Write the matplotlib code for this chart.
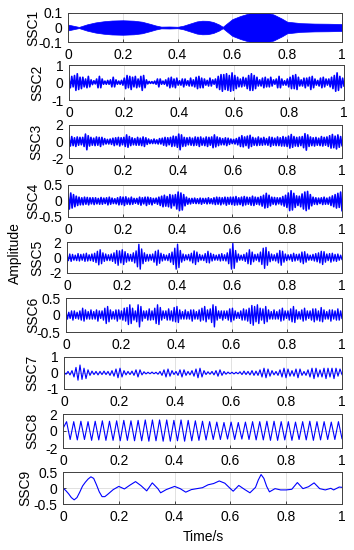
import numpy as np
import matplotlib
matplotlib.use('Agg')
import matplotlib.pyplot as plt

plt.rcParams['font.family'] = ['Liberation Sans', 'DejaVu Sans']
plt.rcParams['axes.unicode_minus'] = False

# SSC1: envelope of the high frequency component
ssc1_t = [0, 0.02, 0.04, 0.07, 0.1, 0.13, 0.16, 0.2, 0.24, 0.27, 0.3, 0.32, 0.34, 0.37, 0.4,
          0.42, 0.45, 0.47, 0.49, 0.51, 0.53, 0.55, 0.565, 0.58, 0.6, 0.63, 0.66, 0.68, 0.72,
          0.75, 0.78, 0.8, 0.85, 0.9, 0.95, 1.0]
ssc1_env = [0.02, 0.012, 0.004, 0.022, 0.035, 0.043, 0.048, 0.05, 0.047, 0.04, 0.025, 0.014, 0.006,
            0.007, 0.005, 0.012, 0.03, 0.042, 0.047, 0.046, 0.038, 0.022, 0.005, 0.028, 0.058,
            0.08, 0.097, 0.105, 0.105, 0.09, 0.062, 0.04, 0.03, 0.027, 0.026, 0.024]

# SSC2..SSC6: samples in hundredths, evenly spaced over 0..1 s
ssc2 = [20, -30, 35, -25, 40, -45, 50, -40, 30, -35, 30, -25, 20, -30, 35, -25, 15, -12, 10, -8,
        20, -30, 35, -30, 20, -10, 8, -10, 12, -10, 15, -25, 30, -25, 15, -10, 8, -10, 12, -15,
        25, -35, 40, -30, 35, -40, 30, -25, 35, -30, 20, -25, 35, -45, 40, -30, 15, -8, 6, -5,
        5, -6, 8, -10, 20, -25, 20, -10, 8, -10, 15, -20, 25, -30, 30, -25, 20, -30, 25, -15,
        10, -15, 20, -25, 20, -15, 10, -20, 25, -20, 15, -25, 30, -35, 35, -30, 25, -30, 20, -15,
        12, -20, 25, -20, 15, -10, 20, -30, 35, -40, 45, -50, 45, -40, 50, -45, 40, -50, 55, -45,
        40, -35, 30, -25, 20, -25, 30, -20, 25, -35, 40, -45, 50, -45, 40, -35, 30, -20, 15, -20,
        25, -30, 30, -25, 20, -25, 30, -20, 15, -10, 20, -30, 35, -30, 20, -15, 10, -15, 20, -25,
        30, -35, 40, -35, 45, -40, 30, -20, 15, -20, 25, -30, 25, -20, 30, -40, 35, -30, 20, -15,
        12, -20, 25, -30, 30, -25, 20, -15, 20, -25, 30, -35, 40, -50, 55, -45, 35, -30, 25, -20]

ssc3 = [40, -55, 60, -50, 45, -60, 55, -45, 50, -40, 50, -60, 90, -100, 70, -55, 50, -45, 40, -50,
        55, -45, 50, -60, 50, -40, 35, -30, 25, -30, 30, -35, 40, -50, 45, -40, 50, -55, 45, -40,
        50, -60, 80, -70, 60, -50, 45, -40, 35, -45, 50, -45, 40, -50, 55, -60, 45, -35, 30, -25,
        20, -25, 30, -25, 20, -30, 35, -30, 40, -45, 50, -55, 45, -40, 50, -60, 65, -55, 60, -70,
        90, -100, 80, -60, 50, -55, 45, -40, 50, -45, 40, -50, 55, -45, 50, -60, 55, -45, 40, -50,
        55, -60, 50, -45, 55, -75, 80, -65, 55, -50, 45, -40, 35, -40, 45, -50, 40, -35, 30, -25,
        25, -30, 35, -40, 50, -60, 70, -65, 55, -50, 65, -80, 75, -60, 50, -45, 40, -50, 55, -45,
        40, -45, 50, -40, 35, -45, 55, -60, 50, -45, 40, -50, 55, -50, 45, -55, 60, -55, 50, -60,
        65, -80, 85, -70, 60, -55, 50, -60, 55, -50, 60, -75, 95, -105, 80, -60, 55, -50, 45, -55,
        50, -45, 40, -50, 60, -55, 50, -45, 55, -60, 70, -80, 85, -75, 65, -90, 80, -70, 60, -50]

ssc4 = [20, -25, 25, -22, 20, -18, 15, -14, 12, -12, 10, -12, 12, -10, 11, -12, 10, -9, 10, -11,
        10, -9, 8, -10, 11, -10, 9, -8, 10, -12, 12, -10, 9, -8, 7, -9, 10, -12, 13, -11,
        12, -14, 13, -10, 9, -11, 12, -10, 8, -7, 8, -10, 12, -13, 10, -9, 12, -14, 12, -10,
        10, -12, 8, -7, 9, -10, 12, -14, 15, -18, 18, -16, 14, -18, 20, -22, 18, -15, 20, -25,
        28, -30, 25, -28, 20, -15, 12, -10, 8, -9, 8, -7, 9, -8, 7, -8, 9, -10, 8, -7,
        8, -9, 10, -8, 7, -9, 10, -11, 12, -10, 11, -12, 10, -9, 12, -13, 11, -10, 12, -11,
        12, -13, 14, -12, 10, -11, 12, -15, 14, -12, 12, -10, 11, -13, 15, -14, 12, -10, 11, -12,
        14, -16, 18, -22, 24, -20, 18, -15, 12, -10, 11, -12, 10, -9, 10, -12, 14, -16, 18, -20,
        25, -30, 32, -28, 24, -20, 16, -14, 15, -18, 22, -25, 28, -30, 30, -25, 20, -15, 12, -10,
        10, -11, 9, -8, 10, -11, 12, -10, 9, -10, 12, -14, 16, -18, 20, -22, 24, -20, 28, -30]

ssc5 = [30, -40, 45, -50, 40, -35, 30, -40, 50, -45, 40, -35, 45, -50, 55, -45, 35, -40, 45, -50,
        55, -65, 80, -95, 100, -80, 60, -50, 45, -40, 35, -40, 45, -50, 60, -75, 90, -100, 85, -70,
        100, -90, 75, -60, 50, -45, 40, -50, 60, -70, 85, -120, 170, -150, 110, -80, 60, -50, 40, -45,
        40, -35, 45, -60, 80, -100, 95, -75, 55, -45, 40, -35, 30, -40, 50, -60, 70, -90, 120, -150,
        170, -130, 90, -60, 45, -40, 35, -30, 40, -45, 55, -70, 85, -90, 70, -55, 40, -35, 30, -40,
        50, -65, 80, -70, 55, -45, 40, -35, 30, -35, 40, -45, 50, -40, 35, -45, 60, -80, 110, -150,
        180, -140, 90, -60, 45, -35, 30, -35, 40, -50, 60, -80, 100, -90, 70, -55, 40, -35, 45, -55,
        70, -90, 120, -140, 130, -100, 75, -55, 45, -40, 35, -45, 55, -70, 90, -100, 80, -60, 45, -40,
        35, -30, 40, -50, 55, -45, 40, -35, 45, -60, 70, -80, 75, -60, 45, -35, 30, -35, 40, -45,
        50, -55, 60, -70, 80, -90, 75, -60, 45, -40, 50, -60, 55, -45, 40, -50, 45, -35, 30, -25]

ssc6 = [10, -12, 8, -10, 12, -15, 12, -10, 8, -12, 12, -15, 20, -18, 15, -12, 10, -12, 15, -12,
        10, -12, 15, -18, 12, -10, 12, -15, 20, -25, 25, -20, 15, -12, 10, -12, 15, -18, 15, -12,
        12, -15, 20, -18, 22, -28, 30, -25, 20, -15, 12, -20, 30, -35, 25, -18, 12, -10, 12, -15,
        18, -15, 12, -14, 20, -25, 30, -28, 22, -15, 12, -10, 12, -15, 18, -15, 12, -18, 22, -20,
        25, -22, 15, -12, 10, -12, 15, -12, 10, -12, 15, -18, 15, -12, 10, -12, 15, -18, 20, -15,
        25, -20, 15, -12, 18, -22, 30, -35, 25, -15, 12, -10, 12, -15, 12, -10, 12, -15, 18, -20,
        20, -15, 12, -10, 8, -10, 12, -15, 18, -15, 15, -18, 20, -25, 28, -30, 25, -20, 30, -25,
        20, -15, 18, -25, 25, -20, 15, -12, 10, -12, 15, -12, 10, -12, 15, -18, 20, -15, 12, -10,
        12, -15, 18, -20, 25, -22, 15, -12, 10, -12, 15, -18, 20, -15, 12, -10, 12, -15, 18, -20,
        18, -15, 12, -18, 22, -20, 15, -12, 10, -12, 15, -18, 15, -12, 12, -15, 18, -15, 12, -10]

# SSC7: peaks/troughs in hundredths
ssc7 = [5, -8, 10, -12, 15, -25, 35, -45, 50, -40, 30, -35, 20, -15, 12, -10, 10, -12, 10, -10,
        12, -10, 10, -15, 15, -20, 25, -30, 30, -25, 15, -12, 10, -10, 12, -15, 20, -25, 20, -12,
        8, -6, 5, -5, 6, -5, 5, -8, 10, -15, 20, -25, 25, -20, 15, -10, 10, -15, 20, -25,
        20, -15, 10, -12, 15, -20, 25, -30, 30, -25, 15, -10, 8, -8, 10, -12, 15, -20, 20, -15,
        10, -8, 6, -5, 5, -6, 5, -5, 8, -10, 12, -10, 10, -12, 15, -15, 12, -15, 20, -25,
        30, -30, 25, -20, 15, -12, 10, -15, 20, -25, 30, -30, 25, -20, 15, -20, 25, -30, 25, -15,
        10, -15, 20, -25, 30, -35, 30, -25, 20, -25, 30, -35, 30, -25, 30, -35, 30, -20, 25, -10]

# SSC8: near-periodic component, peaks/troughs
ssc8 = [0.3,
        1.1, -1.0, 1.1, -1.05, 1.15, -1.0, 1.1, -1.1, 1.15, -1.05,
        1.2, -1.1, 1.15, -1.1, 1.2, -1.15, 1.25, -1.1, 1.2, -1.15,
        1.25, -1.15, 1.3, -1.2, 1.3, -1.15, 1.3, -1.2, 1.3, -1.2,
        1.25, -1.15, 1.3, -1.2, 1.25, -1.15, 1.2, -1.1, 1.15, -1.05,
        1.1, -1.0, 1.05, -1.0, 1.0, -0.95, 1.05, -1.0, 1.0, -0.95,
        1.05, -1.0, 1.1, -1.05, 1.1, -1.05, 1.15, -1.1, 1.15, -1.1,
        1.1, -1.05, 1.1, -1.1, 1.05, -1.0, 1.1, -1.05, 1.15, -1.1,
        1.1, -1.05, 1.1, -1.0, 1.05, -1.0, 1.1, -0.9]

# SSC9: low frequency trend
ssc9_t = [0, 0.01, 0.02, 0.03, 0.04, 0.05, 0.06, 0.07, 0.08, 0.09, 0.1, 0.11, 0.12, 0.13, 0.14,
          0.15, 0.16, 0.18, 0.2, 0.22, 0.24, 0.26, 0.28, 0.3, 0.32, 0.34, 0.35, 0.37, 0.4, 0.42,
          0.44, 0.46, 0.48, 0.5, 0.52, 0.54, 0.56, 0.58, 0.6, 0.61, 0.63, 0.65, 0.67, 0.69, 0.7,
          0.71, 0.72, 0.73, 0.74, 0.76, 0.78, 0.8, 0.82, 0.84, 0.86, 0.88, 0.9, 0.92, 0.94, 0.96,
          0.97, 0.99, 1.0]
ssc9 = [0.0, -0.08, -0.18, -0.3, -0.37, -0.3, -0.13, 0.06, 0.18, 0.28, 0.35, 0.3, 0.1, -0.12, -0.27,
        -0.27, -0.2, -0.05, 0.05, -0.03, 0.09, 0.2, 0.07, -0.09, 0.16, -0.02, -0.15, -0.05, 0.05, -0.02,
        -0.13, -0.05, -0.02, 0.01, 0.1, 0.14, 0.22, 0.15, -0.02, -0.1, 0.08, -0.04, -0.15, 0.02, 0.25,
        0.42, 0.3, 0.05, -0.12, -0.02, -0.06, -0.06, -0.04, 0.17, -0.02, 0.04, 0.16, -0.02, -0.06, -0.01,
        -0.06, 0.03, 0.02]

names = ['SSC1', 'SSC2', 'SSC3', 'SSC4', 'SSC5', 'SSC6', 'SSC7', 'SSC8', 'SSC9']
ylims = [0.1, 1, 2, 0.5, 2, 0.5, 1, 2, 0.5]
xticks = [0, 0.2, 0.4, 0.6, 0.8, 1]
xtick_labels = ['0', '0.2', '0.4', '0.6', '0.8', '1']

# panel boxes in pixels (left, top, right, bottom) and ylabel x centre
W, H = 354, 550
boxes = [(68, 13, 342, 42), (69, 65, 344, 100), (69, 125, 342, 158),
         (68, 185, 342, 217), (67, 242, 342, 273), (66, 298, 342, 332),
         (64, 357, 342, 389), (63, 414, 342, 448), (63, 472, 342, 504)]
label_x = [33, 37, 36, 33, 37, 33, 32, 32, 25]

fig = plt.figure(figsize=(3.54, 5.5), dpi=100, facecolor='white')
blue = '#0000ff'

for i, name in enumerate(names):
    l, t, r, b = boxes[i]
    ax = fig.add_axes([l / W, 1 - b / H, (r - l) / W, (b - t) / H])
    if i == 0:
        ax.fill_between(ssc1_t, -np.array(ssc1_env), ssc1_env, color=blue, lw=0.5)
    elif i <= 5:
        y = np.array([ssc2, ssc3, ssc4, ssc5, ssc6][i - 1]) / 100.0
        ax.plot(np.linspace(0, 1, len(y)), y, color=blue, lw=1.2 if i <= 3 else 1.0)
    elif i == 6:
        y = np.array(ssc7) / 100.0
        ax.plot(np.linspace(0, 1, len(y)), y, color=blue, lw=0.8)
    elif i == 7:
        ax.plot(np.linspace(0, 1, len(ssc8)), ssc8, color=blue, lw=0.8)
    else:
        ax.plot(ssc9_t, ssc9, color=blue, lw=0.8)

    lim = ylims[i]
    ax.set_xlim(0, 1)
    ax.set_ylim(-lim, lim)
    ax.set_xticks(xticks)
    ax.set_xticklabels(xtick_labels)
    ax.set_yticks([-lim, 0, lim])
    ax.set_yticklabels(['%g' % -lim, '0', '%g' % lim])
    ax.tick_params(direction='in', length=2.5, width=0.6, labelsize=10, pad=4,
                   colors='#262626', labelcolor='black')
    ax.grid(True, color='#dcdcdc', lw=0.6)
    ax.set_axisbelow(True)
    for sp in ax.spines.values():
        sp.set_color('#404040')
        sp.set_linewidth(0.7)
    fig.text(label_x[i] / W, 1 - (t + b) / 2 / H, name, rotation=90,
             ha='center', va='center', fontsize=10)

fig.text(15 / W, 1 - 253 / H, 'Amplitude', rotation=90, ha='center', va='center', fontsize=10)
fig.text(203 / W, 1 - 537 / H, 'Time/s', ha='center', va='center', fontsize=10)

fig.savefig('out.png', dpi=100, facecolor='white')
